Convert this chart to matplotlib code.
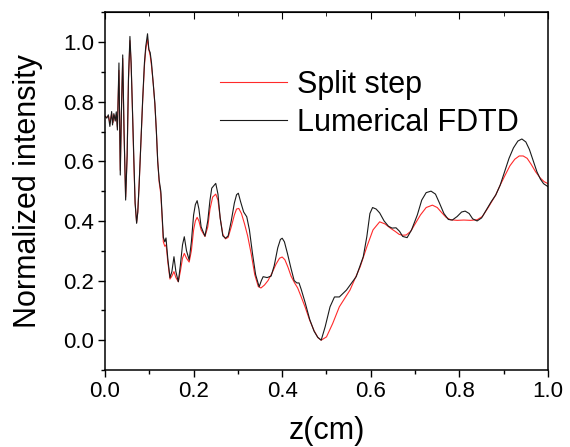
import matplotlib
matplotlib.use('Agg')
import matplotlib.pyplot as plt
from matplotlib.ticker import MultipleLocator

plt.rcParams['font.family'] = ['Liberation Sans', 'DejaVu Sans']

# Lumerical FDTD (black)
z_fdtd = [0.000, 0.004, 0.0075, 0.011, 0.015, 0.017, 0.020, 0.023, 0.0255, 0.028,
          0.0315, 0.0345, 0.037, 0.040, 0.043, 0.0466, 0.050, 0.053, 0.0563, 0.059,
          0.062, 0.065, 0.068, 0.0714, 0.074, 0.077, 0.081, 0.085, 0.089, 0.092,
          0.096, 0.099, 0.102, 0.105, 0.109, 0.1126, 0.116, 0.119, 0.1223, 0.126,
          0.129, 0.1317, 0.135, 0.1377, 0.142, 0.1467, 0.151, 0.1557, 0.160, 0.1655,
          0.170, 0.175, 0.179, 0.184, 0.190, 0.195, 0.200, 0.204, 0.208, 0.212,
          0.217, 0.2257, 0.232, 0.237, 0.241, 0.250, 0.255, 0.260, 0.266, 0.272,
          0.278, 0.285, 0.292, 0.297, 0.301, 0.306, 0.313, 0.320, 0.326, 0.333,
          0.340, 0.348, 0.353, 0.357, 0.366, 0.375, 0.382, 0.390, 0.396, 0.400,
          0.405, 0.412, 0.420, 0.427, 0.433, 0.438, 0.443, 0.452, 0.462, 0.472,
          0.480, 0.488, 0.497, 0.508, 0.518, 0.529, 0.545, 0.567, 0.583, 0.591,
          0.598, 0.604, 0.612, 0.620, 0.630, 0.640, 0.648, 0.657, 0.665, 0.672,
          0.682, 0.692, 0.705, 0.715, 0.725, 0.736, 0.746, 0.755, 0.765, 0.775,
          0.784, 0.795, 0.805, 0.813, 0.822, 0.830, 0.840, 0.850, 0.862, 0.872,
          0.882, 0.892, 0.902, 0.912, 0.922, 0.932, 0.941, 0.950, 0.958, 0.966,
          0.975, 0.983, 0.990, 1.000]
i_fdtd = [0.752, 0.745, 0.756, 0.717, 0.767, 0.722, 0.760, 0.735, 0.766, 0.705,
          0.930, 0.554, 0.760, 0.957, 0.700, 0.470, 0.620, 0.880, 1.019, 0.930,
          0.770, 0.600, 0.460, 0.392, 0.430, 0.520, 0.660, 0.806, 0.930, 0.985,
          1.028, 0.975, 0.965, 0.930, 0.860, 0.795, 0.700, 0.600, 0.537, 0.500,
          0.420, 0.345, 0.330, 0.343, 0.270, 0.210, 0.230, 0.280, 0.230, 0.196,
          0.250, 0.320, 0.347, 0.300, 0.269, 0.330, 0.420, 0.455, 0.468, 0.440,
          0.380, 0.349, 0.400, 0.470, 0.510, 0.526, 0.490, 0.410, 0.350, 0.342,
          0.350, 0.400, 0.460, 0.488, 0.493, 0.465, 0.430, 0.414, 0.370, 0.290,
          0.220, 0.179, 0.200, 0.213, 0.210, 0.215, 0.250, 0.310, 0.338, 0.342,
          0.330, 0.290, 0.240, 0.200, 0.192, 0.192, 0.170, 0.125, 0.070, 0.030,
          0.010, 0.000, 0.045, 0.112, 0.145, 0.145, 0.168, 0.213, 0.280, 0.347,
          0.425, 0.445, 0.440, 0.427, 0.400, 0.382, 0.376, 0.377, 0.365, 0.348,
          0.344, 0.370, 0.420, 0.470, 0.495, 0.500, 0.490, 0.460, 0.425, 0.405,
          0.403, 0.415, 0.430, 0.433, 0.425, 0.407, 0.400, 0.410, 0.440, 0.465,
          0.487, 0.520, 0.565, 0.610, 0.645, 0.668, 0.675, 0.665, 0.640, 0.605,
          0.565, 0.540, 0.525, 0.515]

# Split step (red)
z_split = [0.000, 0.004, 0.008, 0.011, 0.015, 0.018, 0.021, 0.024, 0.026, 0.028,
           0.0315, 0.0345, 0.037, 0.040, 0.043, 0.0466, 0.050, 0.053, 0.0563, 0.059,
           0.062, 0.065, 0.068, 0.0714, 0.074, 0.077, 0.081, 0.085, 0.089, 0.092,
           0.096, 0.099, 0.102, 0.105, 0.109, 0.1126, 0.116, 0.119, 0.1223, 0.126,
           0.129, 0.1317, 0.135, 0.138, 0.142, 0.1467, 0.151, 0.1557, 0.160, 0.1655,
           0.170, 0.175, 0.179, 0.184, 0.190, 0.195, 0.200, 0.204, 0.208, 0.212,
           0.217, 0.2257, 0.232, 0.237, 0.243, 0.250, 0.255, 0.260, 0.266, 0.272,
           0.278, 0.285, 0.292, 0.297, 0.302, 0.308, 0.315, 0.322, 0.330, 0.338,
           0.346, 0.352, 0.360, 0.368, 0.377, 0.386, 0.394, 0.400, 0.406, 0.413,
           0.420, 0.428, 0.435, 0.443, 0.452, 0.462, 0.472, 0.481, 0.488, 0.500,
           0.514, 0.529, 0.553, 0.576, 0.591, 0.605, 0.620, 0.632, 0.645, 0.655,
           0.664, 0.672, 0.680, 0.690, 0.700, 0.712, 0.725, 0.739, 0.750, 0.760,
           0.770, 0.780, 0.795, 0.810, 0.825, 0.840, 0.852, 0.865, 0.875, 0.882,
           0.892, 0.902, 0.914, 0.925, 0.935, 0.944, 0.953, 0.962, 0.972, 0.982,
           0.991, 1.000]
i_split = [0.750, 0.748, 0.752, 0.728, 0.760, 0.730, 0.755, 0.738, 0.755, 0.715,
           0.905, 0.570, 0.760, 0.945, 0.700, 0.480, 0.620, 0.870, 1.005, 0.925,
           0.770, 0.600, 0.460, 0.395, 0.430, 0.520, 0.660, 0.800, 0.920, 0.975,
           1.010, 0.975, 0.955, 0.920, 0.860, 0.790, 0.700, 0.600, 0.530, 0.490,
           0.410, 0.330, 0.315, 0.320, 0.260, 0.205, 0.215, 0.230, 0.210, 0.196,
           0.230, 0.275, 0.291, 0.275, 0.262, 0.300, 0.370, 0.400, 0.412, 0.400,
           0.370, 0.348, 0.380, 0.440, 0.480, 0.490, 0.470, 0.410, 0.355, 0.340,
           0.345, 0.380, 0.420, 0.440, 0.442, 0.425, 0.390, 0.350, 0.290, 0.220,
           0.180, 0.175, 0.185, 0.200, 0.225, 0.255, 0.275, 0.279, 0.270, 0.245,
           0.215, 0.192, 0.175, 0.145, 0.110, 0.067, 0.032, 0.008, 0.000, 0.011,
           0.056, 0.112, 0.168, 0.246, 0.313, 0.370, 0.397, 0.390, 0.375, 0.365,
           0.355, 0.352, 0.353, 0.365, 0.390, 0.420, 0.445, 0.453, 0.445, 0.428,
           0.412, 0.404, 0.402, 0.403, 0.402, 0.404, 0.415, 0.445, 0.470, 0.487,
           0.520, 0.550, 0.585, 0.607, 0.618, 0.618, 0.610, 0.590, 0.565, 0.545,
           0.532, 0.525]

fig = plt.figure(figsize=(5.70, 4.47), dpi=100)
ax = fig.add_axes([0.1842, 0.1723, 0.7772, 0.8002])

ax.plot(z_split, i_split, color='#ff2a2a', lw=0.8, label='Split step')
ax.plot(z_fdtd, i_fdtd, color='#1a1a1a', lw=0.8, label='Lumerical FDTD')

ax.set_xlim(0, 1.0)
ax.set_ylim(-0.1, 1.1)
ax.xaxis.set_major_locator(MultipleLocator(0.2))
ax.xaxis.set_minor_locator(MultipleLocator(0.1))
ax.yaxis.set_major_locator(MultipleLocator(0.2))
ax.yaxis.set_minor_locator(MultipleLocator(0.1))
ax.tick_params(which='both', direction='out', labelsize=16, width=1)
ax.tick_params(which='major', length=5, pad=3)
ax.tick_params(which='minor', length=3)

# top axis with inward ticks, no labels
top = ax.secondary_xaxis('top')
top.xaxis.set_major_locator(MultipleLocator(0.2))
top.xaxis.set_minor_locator(MultipleLocator(0.1))
top.tick_params(which='both', direction='in', labeltop=False)
top.tick_params(which='major', length=5)
top.tick_params(which='minor', length=3)

for sp in ax.spines.values():
    sp.set_linewidth(1.1)

ax.set_xlabel('z(cm)', fontsize=22, labelpad=10)
ax.set_ylabel('Normalized intensity', fontsize=22, labelpad=14)

ax.legend(frameon=False, fontsize=22, loc='upper left', bbox_to_anchor=(0.26, 0.84),
          borderpad=0, borderaxespad=0, handlelength=2.2, handletextpad=0.3,
          labelspacing=0.28)

fig.savefig('out.png', dpi=100)
